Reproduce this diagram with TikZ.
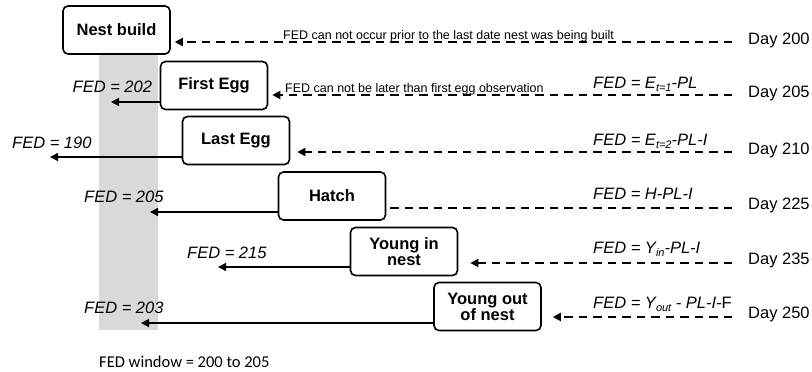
\documentclass[tikz,border=0pt]{standalone}
\usepackage{fontspec}
\setmainfont{Liberation Sans}
\newfontfamily\footfont{Carlito}
\usetikzlibrary{arrows.meta}
\newcommand{\subs}[1]{\raisebox{-3.5pt}{\fontsize{11}{11}\selectfont\itshape #1}}
\begin{document}
\begin{tikzpicture}[x=1pt,y=-1pt,
 stage/.style={draw, line width=1.6pt, rounded corners=5pt, fill=white, minimum width=107pt, minimum height=48pt, align=center, inner sep=0pt, font=\fontsize{16.5}{16}\selectfont\bfseries},
 lbl/.style={inner sep=0pt, anchor=base west, font=\fontsize{16.5}{18}\selectfont\itshape},
 day/.style={inner sep=0pt, anchor=base west, font=\fontsize{16.5}{18}\selectfont},
 note/.style={inner sep=0pt, anchor=base west, font=\fontsize{12.5}{14}\selectfont},
 obs/.style={line width=1.9pt, dash pattern=on 8.5pt off 6pt, -{Triangle[length=8pt,width=8pt]}},
 obsn/.style={line width=1.9pt, dash pattern=on 8.5pt off 6pt},
 fed/.style={line width=1.3pt, -{Triangle[length=8pt,width=8pt]}},
]
\useasboundingbox (0,0) rectangle (812,372);
% FED window band
\fill[black!15] (99,54) rectangle (158,330);

% stage boxes
\node[stage] (nb) at (116.5,30) {Nest build};
\node[stage] (fe) at (214,85.5) {First Egg};
\node[stage] (le) at (236,140.5) {Last Egg};
\node[stage] (ha) at (332,196) {Hatch};
\node[stage] (yi) at (404,251.5) {Young in\\nest};
\node[stage] (yo) at (487.5,306.5) {Young out\\of nest};

% right-hand start points of observation lines
\coordinate (r1) at (732,42);
\coordinate (r2) at (732,95);
\coordinate (r3) at (732,152);
\coordinate (r4) at (732,208);
\coordinate (r5) at (732,263);
\coordinate (r6) at (732,317);

\draw[obs, shorten >=4pt] (r1) -- (nb.east |- r1);
\draw[obs, shorten >=4pt] (r2) -- (fe.east |- r2);
\draw[obs, shorten >=7pt] (r3) -- (le.east |- r3);
\draw[obsn] (r4) -- (ha.east |- r4);
\draw[obs, shorten >=12pt] (r5) -- (yi.east |- r5);
\draw[obs, shorten >=11pt] (r6) -- (yo.east |- r6);

% FED arrows
\coordinate (l2) at (111,102);
\coordinate (l3) at (50,157);
\coordinate (l4) at (150,212);
\coordinate (l5) at (218,267);
\coordinate (l6) at (141,323);
\draw[fed] (fe.west |- l2) -- (l2);
\draw[fed] (le.west |- l3) -- (l3);
\draw[fed] (ha.west |- l4) -- (l4);
\draw[fed] (yi.west |- l5) -- (l5);
\draw[fed] (yo.west |- l6) -- (l6);

% FED values
\node[lbl] (v2) at (72.5,92) {FED = 202};
\node[lbl] (v3) at (12,148) {FED = 190};
\node[lbl] (v4) at (84,202) {FED = 205};
\node[lbl] (v5) at (187,258) {FED = 215};
\node[lbl] (v6) at (84,313) {FED = 203};

% notes
\node[note] (n1) at (283,39.5) {FED can not occur prior to the last date nest was being built};
\node[note] (n2) at (285,92) {FED can not be later than first egg observation};

% formulas
\node[lbl] (f2) at (593,88) {FED = E\subs{t=1}-PL};
\node[lbl] (f3) at (593,145) {FED = E\subs{t=2}-PL-I};
\node[lbl] (f4) at (593,199) {FED = H-PL-I};
\node[lbl] (f5) at (593,253) {FED = Y\subs{in}-PL-I};
\node[lbl] (f6) at (593,308) {FED = Y\subs{out} - PL-I-\upshape F};

% days
\node[day] (d1) at (748,44) {Day 200};
\node[day] (d2) at (748,97) {Day 205};
\node[day] (d3) at (748,154) {Day 210};
\node[day] (d4) at (748,209) {Day 225};
\node[day] (d5) at (748,264.5) {Day 235};
\node[day] (d6) at (748,318.5) {Day 250};

% footer
\node[inner sep=0pt, anchor=base west, font=\footfont\fontsize{16.5}{18}\selectfont] (win) at (99,367) {FED window = 200 to 205};
\end{tikzpicture}
\end{document}
